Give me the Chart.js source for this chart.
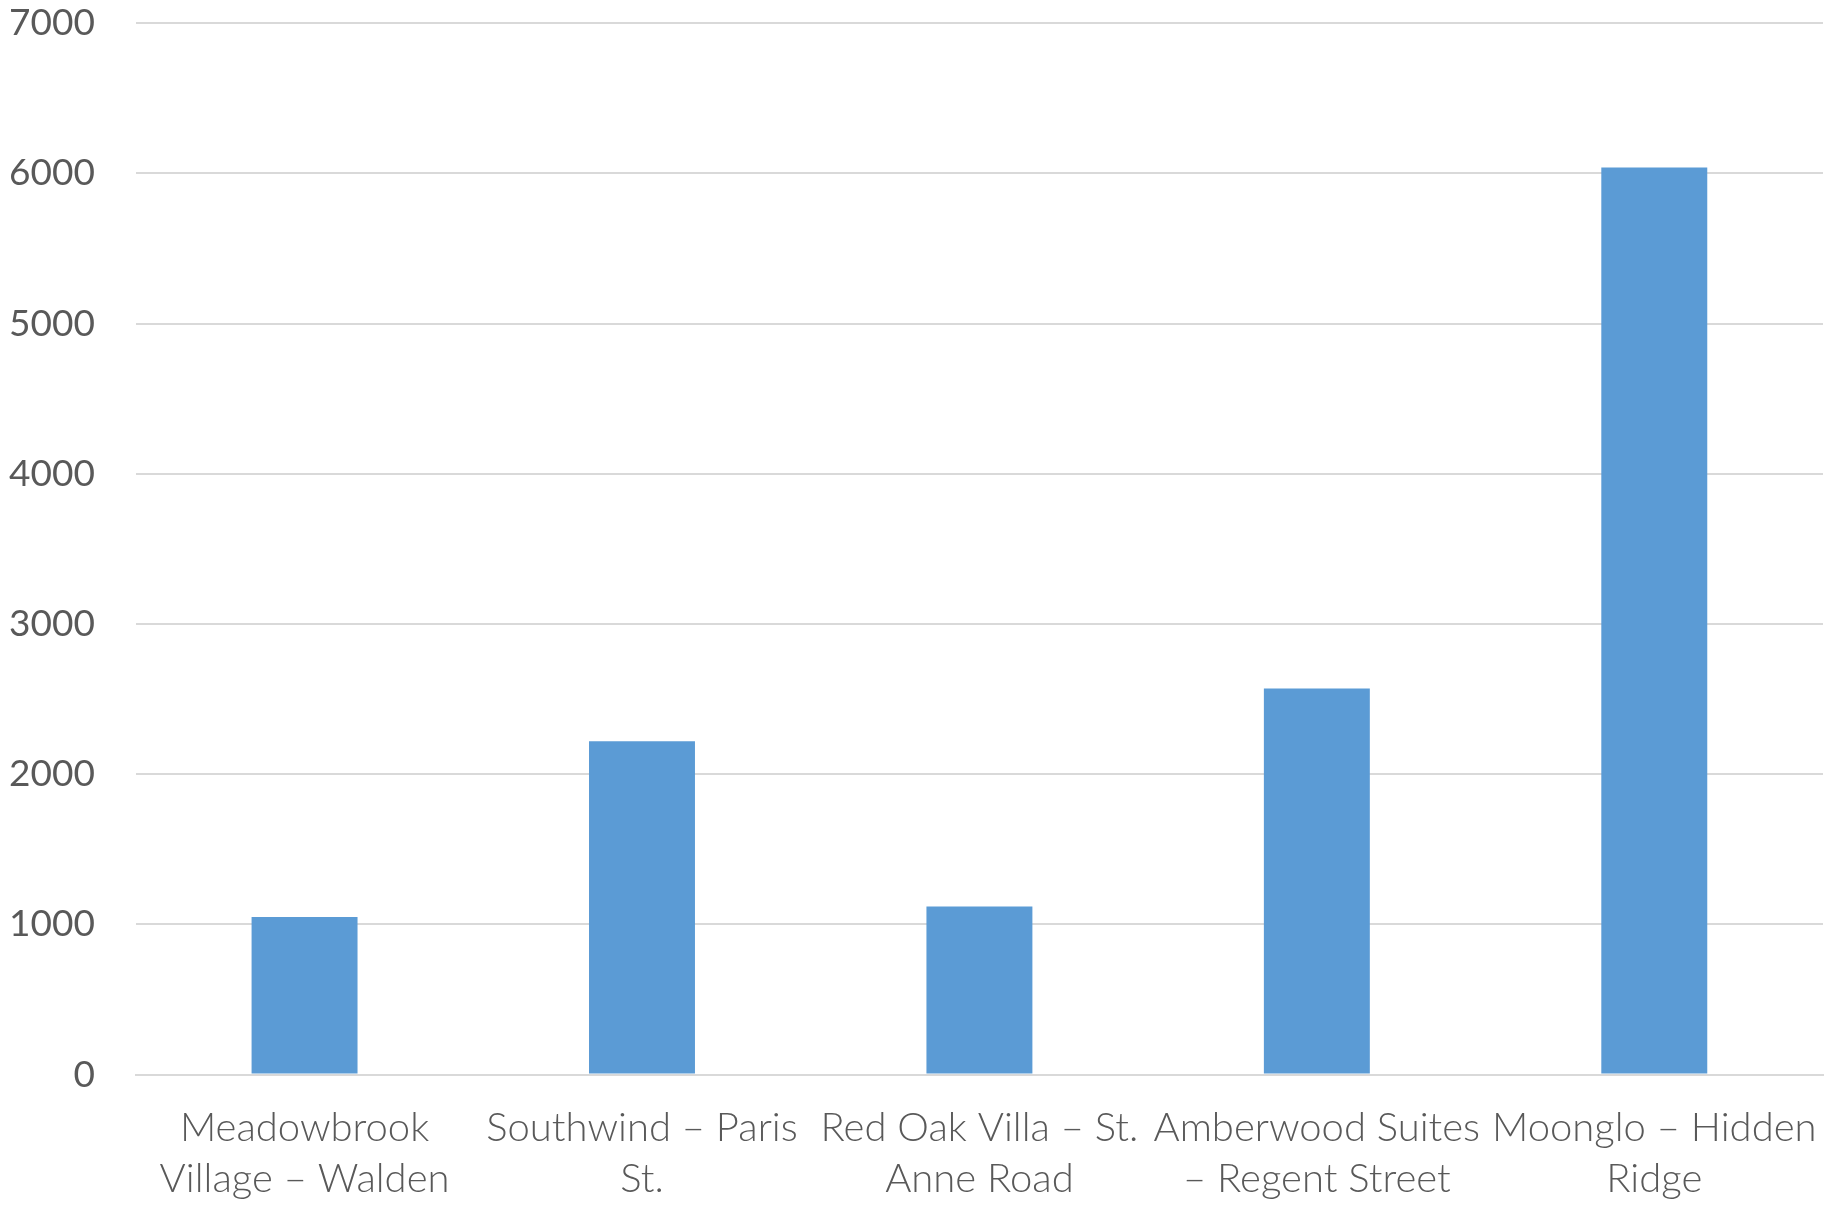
<!DOCTYPE html>
<html>
<head>
<meta charset="utf-8">
<script src="https://cdn.jsdelivr.net/npm/chart.js@4"></script>
<style>
  html, body { margin: 0; padding: 0; background: #ffffff; }
  #wrap { width: 1827px; height: 1205px; position: relative; }
</style>
</head>
<body>
<div id="wrap"><canvas id="barChart"></canvas></div>
<script>
const categories = [
    ['Meadowbrook', 'Village \u2013 Walden'],
    ['Southwind \u2013 Paris', 'St.'],
    ['Red Oak Villa \u2013 St.', 'Anne Road'],
    ['Amberwood Suites', '\u2013 Regent Street'],
    ['Moonglo \u2013 Hidden', 'Ridge']
];
const values = [1050, 2220, 1120, 2570, 6040];
const yTicks = [0, 1000, 2000, 3000, 4000, 5000, 6000, 7000];

const textColor = '#595959';
const gridColor = '#d9d9d9';

const ctx = document.getElementById('barChart').getContext('2d');
new Chart(ctx, {
    type: 'bar',
    data: {
        labels: categories,
        datasets: [{
            data: values,
            backgroundColor: '#5b9bd5',
            borderWidth: 0,
            categoryPercentage: 1,
            barPercentage: 0.314
        }]
    },
    options: {
        responsive: true,
        maintainAspectRatio: false,
        animation: false,
        layout: {
            padding: { top: 0, right: 4, left: 8, bottom: 0 }
        },
        plugins: {
            legend: { display: false },
            tooltip: { enabled: false }
        },
        scales: {
            y: {
                min: yTicks[0],
                max: yTicks[yTicks.length - 1],
                afterBuildTicks: axis => {
                    axis.ticks = yTicks.map(v => ({ value: v }));
                },
                grid: {
                    color: gridColor,
                    lineWidth: 2,
                    drawTicks: true,
                    tickLength: 40,
                    tickColor: 'rgba(0,0,0,0)'
                },
                border: { display: false },
                ticks: {
                    color: textColor,
                    padding: 1,
                    font: { family: 'Lato', size: 37, weight: '400' },
                    callback: value => String(value)
                }
            },
            x: {
                grid: {
                    display: true,
                    drawOnChartArea: false,
                    drawTicks: true,
                    tickLength: 28,
                    tickColor: 'rgba(0,0,0,0)'
                },
                border: { display: true, color: gridColor, width: 2 },
                ticks: {
                    color: textColor,
                    padding: 0,
                    maxRotation: 0,
                    autoSkip: false,
                    font: { family: 'Lato', size: 40, weight: '300', lineHeight: 1.28 }
                }
            }
        }
    }
});
</script>
</body>
</html>
